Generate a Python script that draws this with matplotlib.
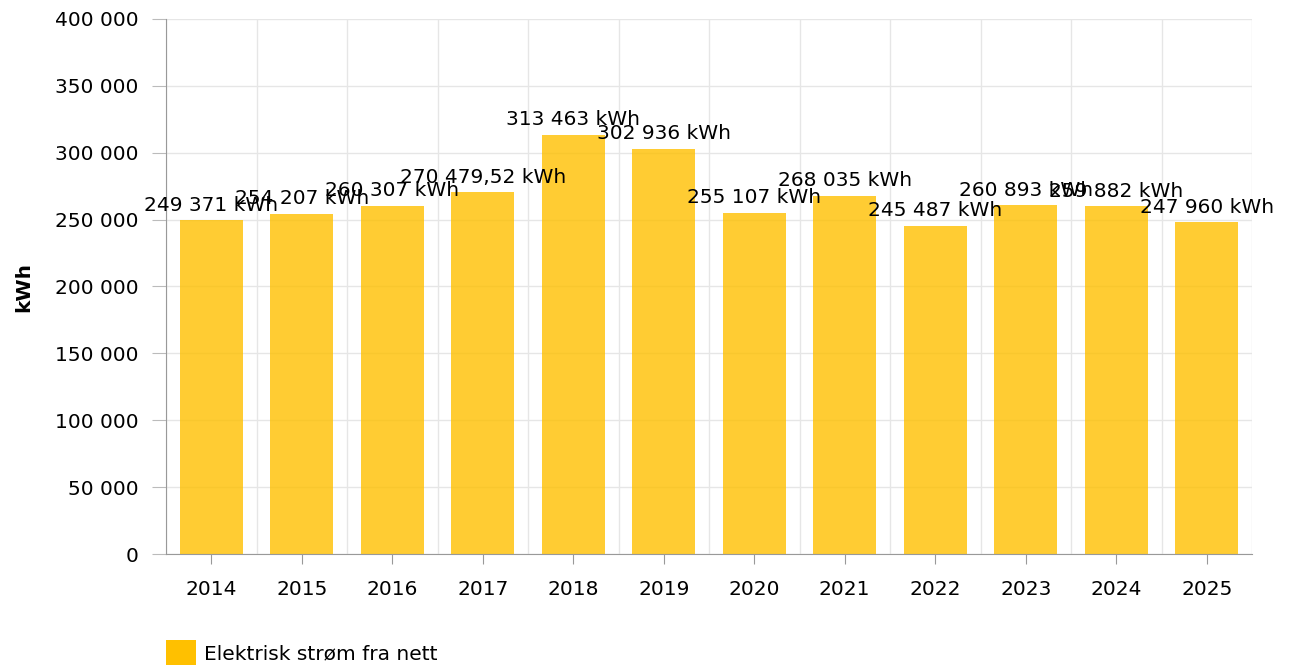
import numpy as np
import matplotlib
matplotlib.use("Agg")
from matplotlib import pyplot as plt
from matplotlib.patches import Patch

# data
years = ["2014", "2015", "2016", "2017", "2018", "2019",
         "2020", "2021", "2022", "2023", "2024", "2025"]
values = [249371, 254207, 260307, 270479.52, 313463, 302936,
          255107, 268035, 245487, 260893, 259882, 247960]
series_name = "Elektrisk strøm fra nett"
yticks = [0, 50000, 100000, 150000, 200000, 250000, 300000, 350000, 400000]


def fmt(v, unit=""):
    # norwegian style: space thousands separator, comma decimals
    if float(v).is_integer():
        s = "{:,.0f}".format(v).replace(",", " ")
    else:
        s = "{:,.2f}".format(v).replace(",", " ").replace(".", ",")
    return s + unit


plt.rcParams['font.family'] = ['DejaVu Sans']
plt.rcParams['font.size'] = 14.5

fig = plt.figure(figsize=(12.92, 6.66), dpi=100)
ax = fig.add_axes([166/1292, 1-554/666, (1252-166)/1292, (554-19)/666])

x = np.arange(len(years))
bars = ax.bar(x, values, width=0.7, color='#FFC000', alpha=0.8, zorder=2)

for xi, v in zip(x, values):
    ax.annotate(fmt(v, " kWh"), (xi, v), xytext=(0, 4), textcoords='offset points',
                ha='center', va='bottom', color='black', zorder=3)

ax.set_xlim(-0.5, len(years) - 0.5)
ax.set_ylim(0, 400000)
ax.set_yticks(yticks)
ax.set_yticklabels([fmt(t) for t in yticks])
ax.set_xticks(x)
ax.set_xticklabels(years)
ax.set_xticks(np.arange(len(years) + 1) - 0.5, minor=True)

ax.grid(axis='y', color='#e6e6e6', linewidth=1, zorder=0)
ax.grid(axis='x', which='minor', color='#e6e6e6', linewidth=1, zorder=0)
ax.tick_params(axis='x', which='minor', length=0)
ax.tick_params(axis='x', which='major', length=7, color='#999999', pad=12)
ax.tick_params(axis='y', length=10, color='#bbbbbb', pad=10)

for side in ['top', 'right']:
    ax.spines[side].set_visible(False)
ax.spines['left'].set_color('#999999')
ax.spines['bottom'].set_color('#999999')

ax.set_ylabel("kWh", fontweight='bold')
ax.yaxis.set_label_coords(-0.1226, 0.5)

handle = Patch(facecolor='#FFC000', edgecolor='none')
fig.legend([handle], [series_name], loc='upper left',
           bbox_to_anchor=(166/1292, 1-640/666), frameon=False,
           handlelength=1.5, handleheight=1.5, handletextpad=0.4,
           borderpad=0, borderaxespad=0)

fig.savefig("out.png", dpi=100)
